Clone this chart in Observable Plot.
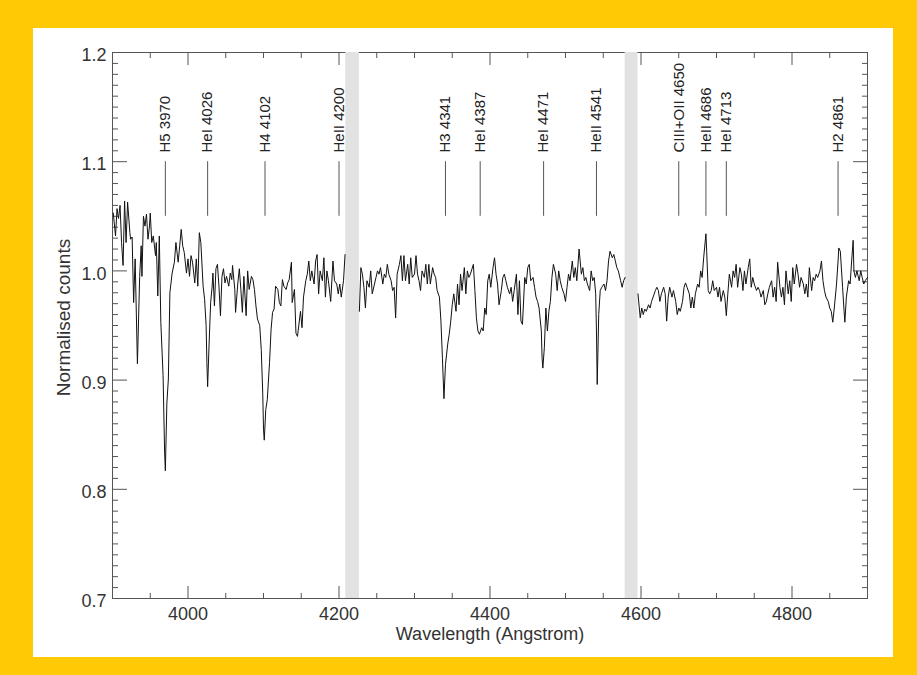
<!DOCTYPE html>
<html><head><meta charset="utf-8">
<script src="https://cdn.jsdelivr.net/npm/d3@7"></script>
<script src="https://cdn.jsdelivr.net/npm/@observablehq/plot@0.6"></script>
<style>
html,body{margin:0;padding:0;}
body{width:917px;height:675px;background:#FFC905;position:relative;overflow:hidden;}
#panel{position:absolute;left:33px;top:28px;width:860px;height:629px;background:#fff;}
</style></head><body><div id="panel"></div>
<script>
// ---- data ----
const seg1Wl = [3901,3904,3906,3908,3910,3912,3914,3916,3918,3920,
3923,3924,3926,3928,3930,3933,3936,3938,3939,3941,
3943,3945,3947,3949,3950,3952,3954,3957,3958,3960,
3962,3964,3967,3969,3970,3972,3974,3976,3979,3982,
3984,3987,3989,3991,3993,3995,3998,4000,4002,4004,
4006,4009,4011,4013,4015,4017,4020,4022,4024,4025,
4026,4028,4030,4032,4033,4035,4037,4039,4041,4043,
4045,4047,4049,4051,4054,4056,4058,4059,4062,4063,
4066,4068,4070,4072,4074,4077,4079,4081,4084,4086,
4088,4090,4092,4095,4097,4099,4100,4101,4103,4105,
4108,4110,4112,4114,4116,4119,4121,4123,4125,4127,
4130,4132,4134,4137,4138,4141,4143,4145,4149,4151,
4153,4156,4158,4160,4162,4164,4167,4169,4171,4173,
4175,4178,4180,4182,4184,4186,4189,4192,4194,4197,
4199,4201,4203,4206,4208];
const seg1Fx = [1.053,1.032,1.057,1.048,1.060,1.026,1.005,1.064,1.026,1.063,
1.035,1.029,1.031,0.971,1.011,0.915,0.995,1.023,0.995,1.050,
1.041,1.052,1.029,1.041,1.053,1.026,1.032,1.014,1.026,0.977,
1.032,0.953,0.904,0.834,0.817,0.879,0.901,0.980,0.998,1.008,
1.026,1.008,1.023,1.038,1.023,1.017,0.998,1.011,0.995,1.014,
1.008,0.989,1.011,0.986,1.035,1.026,0.986,0.974,0.950,0.916,
0.894,0.934,0.971,0.986,0.998,0.968,1.002,1.006,0.986,0.959,
0.995,1.002,0.989,0.995,0.986,0.998,0.992,1.005,0.983,0.962,
0.989,1.002,0.983,0.962,0.995,0.959,1.000,0.983,0.995,0.992,
0.983,0.968,0.956,0.950,0.928,0.888,0.855,0.845,0.873,0.882,
0.916,0.946,0.962,0.965,0.986,0.983,0.971,0.968,0.992,0.986,
0.983,0.989,0.992,1.008,0.971,0.983,0.943,0.940,0.963,0.948,
0.976,0.991,0.997,1.009,0.991,1.000,0.988,1.009,1.015,0.979,
1.000,0.991,1.012,0.976,1.000,0.991,0.972,1.009,0.991,0.988,
0.979,0.988,0.976,0.991,1.015];

const seg2Wl = [4227,4229,4231,4233,4235,4237,4240,4242,4244,4247,
4249,4251,4253,4255,4258,4260,4262,4264,4266,4269,
4271,4273,4275,4277,4280,4282,4284,4286,4288,4291,
4293,4295,4297,4300,4302,4304,4306,4308,4310,4313,
4315,4317,4319,4321,4324,4326,4328,4330,4333,4335,
4337,4339,4341,4344,4346,4348,4350,4352,4355,4357,
4359,4361,4363,4366,4368,4370,4372,4374,4378,4380,
4382,4384,4386,4389,4391,4393,4395,4397,4399,4401,
4404,4406,4408,4410,4412,4415,4417,4419,4421,4423,
4426,4428,4430,4432,4435,4437,4439,4441,4443,4446,
4448,4450,4452,4454,4457,4459,4461,4463,4465,4468,
4469,4470,4472,4474,4476,4478,4480,4482,4484,4487,
4489,4491,4493,4495,4498,4500,4502,4504,4506,4509,
4511,4513,4515,4518,4521,4523,4525,4527,4529,4532,
4534,4536,4538,4540,4541,4542,4544,4546,4548,4551,
4553,4555,4557,4559,4562,4564,4566,4568,4570,4573,
4575,4577,4579];
const seg2Fx = [0.963,1.003,0.997,0.985,0.966,0.991,0.985,1.000,0.979,0.988,
0.994,1.000,0.997,1.003,0.988,0.997,0.994,1.006,0.997,0.991,
0.982,0.985,0.957,0.997,1.006,1.014,0.991,1.014,0.991,1.006,
0.988,1.012,0.994,0.997,1.014,0.997,0.991,0.982,1.000,0.994,
1.006,0.988,1.006,0.988,1.003,0.997,0.994,0.982,0.976,0.954,
0.920,0.883,0.914,0.933,0.942,0.954,0.969,0.979,0.963,0.988,
0.969,0.997,0.982,1.003,0.979,1.000,0.994,0.997,1.006,0.982,
0.957,0.945,0.942,0.948,0.945,0.966,0.960,0.991,0.997,0.985,
1.003,1.012,0.997,0.988,0.969,0.982,0.994,0.997,0.991,0.985,
0.979,0.985,0.972,0.982,0.997,0.960,0.991,0.954,0.951,0.994,
0.988,1.003,1.006,0.991,0.994,0.985,0.976,0.972,0.966,0.945,
0.920,0.911,0.930,0.966,0.945,0.963,0.972,0.994,1.006,0.997,
0.982,1.000,0.991,0.985,0.979,0.972,0.985,0.997,0.991,1.009,
0.994,1.003,0.991,1.020,0.997,1.003,0.991,0.994,0.988,0.982,
1.000,0.991,0.994,0.979,0.945,0.896,0.960,0.982,0.985,0.988,
0.982,0.991,1.009,1.018,1.012,1.015,1.009,1.003,1.000,0.991,
0.985,0.991,0.994];

const seg3Wl = [4596,4599,4601,4603,4605,4607,4610,4612,4614,4616,
4619,4621,4623,4625,4627,4630,4632,4634,4636,4638,
4641,4643,4646,4648,4650,4652,4655,4657,4659,4661,
4664,4666,4668,4670,4672,4675,4677,4679,4681,4683,
4686,4687,4689,4691,4693,4695,4697,4700,4702,4704,
4706,4709,4711,4713,4715,4717,4720,4722,4724,4726,
4728,4731,4733,4735,4737,4739,4742,4744,4746,4748,
4750,4753,4755,4757,4759,4762,4764,4766,4768,4770,
4773,4775,4777,4779,4781,4784,4786,4788,4790,4792,
4795,4797,4799,4801,4803,4806,4808,4810,4812,4815,
4817,4819,4821,4823,4826,4828,4830,4832,4834,4837,
4839,4841,4843,4845,4848,4850,4852,4854,4856,4859,
4861,4862,4864,4867,4869,4870,4872,4875,4877,4879,
4881,4882,4884,4886,4889,4891,4893,4895,4897,4900];
const seg3Fx = [0.979,0.957,0.966,0.960,0.965,0.963,0.969,0.966,0.972,0.976,
0.982,0.985,0.982,0.972,0.979,0.985,0.979,0.954,0.976,0.985,
0.976,0.982,0.972,0.960,0.966,0.963,0.972,0.985,0.989,0.985,
0.979,0.966,0.976,0.966,0.979,0.988,0.985,1.000,0.994,1.012,
1.034,1.018,0.982,0.979,0.982,0.991,0.982,0.985,0.976,0.985,
0.972,0.982,0.976,0.959,0.979,0.997,0.985,1.000,0.994,1.006,
0.985,1.003,0.997,0.982,1.000,0.988,1.003,1.011,0.985,0.994,
0.988,0.982,0.985,0.982,0.976,0.982,0.969,0.972,0.979,0.985,
0.991,0.976,0.985,0.972,1.008,0.985,0.976,0.985,0.969,1.000,
0.979,0.991,0.972,1.003,0.988,1.006,0.997,0.985,0.994,0.988,
0.979,0.988,0.976,1.003,0.982,0.994,0.991,0.997,0.994,1.000,
1.009,0.991,0.982,0.976,0.972,0.966,0.963,0.953,0.966,0.988,
1.009,1.021,1.018,0.985,0.963,0.953,0.976,0.991,0.988,1.009,
1.028,1.000,0.994,1.000,0.991,1.000,0.994,0.988,0.991,0.994];

const gapStart = [4209, 4579];
const gapEnd = [4227, 4596];

const lineWl = [3970,4026,4102,4200,4341,4387,4471,4541,4650,4686,4713,4861];
const lineLabels = ["H5 3970","HeI 4026","H4 4102","HeII 4200","H3 4341","HeI 4387","HeI 4471","HeII 4541","CIII+OII 4650","HeII 4686","HeI 4713","H2 4861"];

const xMajor = [4000,4200,4400,4600,4800];
const xMinor = [3950,4050,4100,4150,4250,4300,4350,4450,4500,4550,4650,4700,4750,4850];
const yMajor = [0.7,0.8,0.9,1.0,1.1,1.2];
const yMinor = [0.71,0.72,0.73,0.74,0.75,0.76,0.77,0.78,0.79,
0.81,0.82,0.83,0.84,0.85,0.86,0.87,0.88,0.89,
0.91,0.92,0.93,0.94,0.95,0.96,0.97,0.98,0.99,
1.01,1.02,1.03,1.04,1.05,1.06,1.07,1.08,1.09,
1.11,1.12,1.13,1.14,1.15,1.16,1.17,1.18,1.19];

const xTitle = "Wavelength (Angstrom)";
const yTitle = "Normalised counts";

// ---- build ----
const table = (wl, fx, seg) => wl.map((w, i) => ({wl: w, flux: fx[i], seg}));
const spectrum = [...table(seg1Wl, seg1Fx, 1), ...table(seg2Wl, seg2Fx, 2), ...table(seg3Wl, seg3Fx, 3)];
const gaps = gapStart.map((s, i) => ({x1: s, x2: gapEnd[i]}));

const tc = "#555";
const tickAxis = (fn, ticks, anchor, size) => fn(ticks, {anchor, tickSize: -size, fill: "none", stroke: tc, label: null});

const chart = Plot.plot({
  width: 860, height: 629,
  marginLeft: 79, marginRight: 26, marginTop: 24, marginBottom: 59,
  style: {fontFamily: "'Liberation Sans', Arial, Helvetica, sans-serif", fontSize: "18px", color: "#333", background: "transparent"},
  x: {domain: [3900, 4900], label: null},
  y: {domain: [0.7, 1.2], label: null},
  marks: [
    Plot.frame({stroke: tc}),
    tickAxis(Plot.axisX, xMajor, "bottom", 12),
    tickAxis(Plot.axisX, xMinor, "bottom", 5),
    tickAxis(Plot.axisX, xMajor, "top", 12),
    tickAxis(Plot.axisX, xMinor, "top", 5),
    tickAxis(Plot.axisY, yMajor, "left", 15),
    tickAxis(Plot.axisY, yMinor, "left", 6),
    tickAxis(Plot.axisY, yMajor, "right", 15),
    tickAxis(Plot.axisY, yMinor, "right", 6),
    Plot.axisX(xMajor, {anchor: "bottom", tickSize: 0, tickPadding: 9, fontSize: 18, tickFormat: d => String(d), label: null}),
    Plot.axisY(yMajor, {anchor: "left", tickSize: 0, tickPadding: 6, dy: 3, fontSize: 18, tickFormat: d3.format(".1f"), label: null}),
    Plot.rect(gaps, {x1: "x1", x2: "x2", fill: "#e2e2e2"}),
    Plot.line(spectrum, {x: "wl", y: "flux", z: "seg", stroke: "#111", strokeWidth: 1}),
    Plot.ruleX(lineWl, {x: d => d, y1: 1.05, y2: 1.10, stroke: tc}),
    Plot.text(lineWl, {x: d => d, text: (d, i) => lineLabels[i], frameAnchor: "top", dy: 100, rotate: -90, textAnchor: "start", lineAnchor: "middle", fontSize: 15, fill: "#222"}),
    Plot.text([xTitle], {frameAnchor: "bottom", dy: 36, textAnchor: "middle", lineAnchor: "middle", fontSize: 18}),
    Plot.text([yTitle], {frameAnchor: "left", dx: -49, dy: -8, rotate: -90, textAnchor: "middle", lineAnchor: "middle", fontSize: 19})
  ]
});
document.getElementById("panel").appendChild(chart);
</script></body></html>
